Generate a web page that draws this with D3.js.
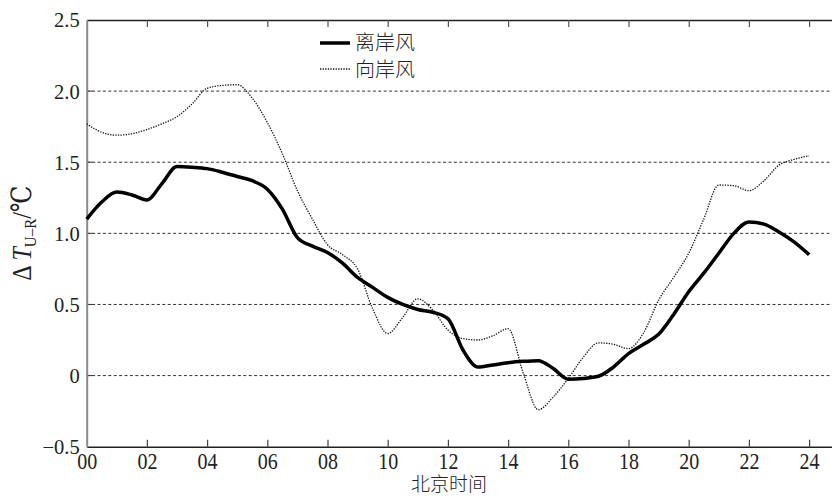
<!DOCTYPE html>
<html>
<head>
<meta charset="utf-8">
<script src="https://cdn.jsdelivr.net/npm/d3@7"></script>
<style>
  html, body { margin: 0; padding: 0; background: #fff; }
  svg { display: block; }
</style>
</head>
<body>
<svg id="chart" width="832" height="497"></svg>
<script>
// Hourly sampling (every half hour, Beijing time)
const hours = d3.range(0, 24.01, 0.5);

// Urban-rural temperature difference under offshore wind
const offshore = [
  1.10, 1.22, 1.29, 1.27, 1.235, 1.35, 1.47, 1.465, 1.455, 1.43,
  1.40, 1.37, 1.31, 1.17, 0.97, 0.91, 0.865, 0.79, 0.69, 0.62,
  0.55, 0.50, 0.465, 0.445, 0.40, 0.18, 0.06, 0.075, 0.09, 0.10,
  0.105, 0.05, -0.025, -0.02, -0.005, 0.06, 0.155, 0.22, 0.29, 0.43,
  0.59, 0.72, 0.86, 1.00, 1.08, 1.065, 1.01, 0.94, 0.85
];

// Urban-rural temperature difference under onshore wind
const onshore = [
  1.77, 1.71, 1.69, 1.70, 1.73, 1.77, 1.82, 1.91, 2.02, 2.04,
  2.045, 1.95, 1.78, 1.56, 1.30, 1.10, 0.92, 0.85, 0.75, 0.47,
  0.295, 0.41, 0.54, 0.46, 0.32, 0.26, 0.25, 0.28, 0.33, 0.02,
  -0.24, -0.15, -0.02, 0.13, 0.23, 0.22, 0.19, 0.30, 0.53, 0.69,
  0.86, 1.10, 1.34, 1.335, 1.30, 1.37, 1.48, 1.52, 1.545
];

const xTicks = d3.range(0, 25, 2);
const xTickLabels = xTicks.map(h => String(h).padStart(2, "0"));
const yTicks = [-0.5, 0, 0.5, 1.0, 1.5, 2.0, 2.5];
const yTickLabels = ["\u22120.5", "0", "0.5", "1.0", "1.5", "2.0", "2.5"];
const gridValues = [0, 0.5, 1.0, 1.5, 2.0];

const seriesNames = ["离岸风", "向岸风"];

const SERIF = "'Liberation Serif', 'DejaVu Serif', serif";
const CJK = "'Noto Sans CJK SC', sans-serif";
const INK = "#222";

const svg = d3.select("#chart");
const plotLeft = 86.7, plotTop = 20, plotBottom = 446.7;

const x = d3.scaleLinear().domain([0, 25]).range([plotLeft, plotLeft + 25 * 30.1]);
const y = d3.scaleLinear().domain([-0.5, 2.5]).range([plotBottom, plotTop]);

// dashed grid lines
svg.append("g").selectAll("line").data(gridValues).join("line")
  .attr("x1", plotLeft).attr("x2", 832)
  .attr("y1", d => y(d)).attr("y2", d => y(d))
  .attr("stroke", "#333").attr("stroke-width", 1)
  .attr("stroke-dasharray", "3,2.4");

// short solid y ticks at grid lines
svg.append("g").selectAll("line").data(gridValues).join("line")
  .attr("x1", plotLeft).attr("x2", plotLeft + 6)
  .attr("y1", d => y(d)).attr("y2", d => y(d))
  .attr("stroke", "#333").attr("stroke-width", 1);

// bottom axis (ticks pointing inward)
const xAxis = d3.axisBottom(x).tickValues(xTicks)
  .tickFormat((d, i) => xTickLabels[i]).tickSizeInner(-7).tickSizeOuter(0);
const gx = svg.append("g").attr("transform", `translate(0,${plotBottom})`).call(xAxis);
gx.select(".domain").attr("stroke", INK).attr("stroke-width", 1.4);
gx.selectAll(".tick line").attr("stroke", "#444").attr("stroke-width", 1.2);
gx.selectAll(".tick text")
  .attr("y", 0).attr("dy", null)
  .attr("transform", "translate(0,22.5) scale(1,1.15)")
  .style("font-family", SERIF).style("font-size", "20px").style("fill", INK);
gx.selectAll(".tick").filter(d => d === 0).select("line").remove();

// top frame with inward ticks
const xTop = d3.axisTop(x).tickValues(xTicks).tickFormat("").tickSizeInner(-7).tickSizeOuter(0);
const gt = svg.append("g").attr("transform", `translate(0,${plotTop})`).call(xTop);
gt.select(".domain").attr("stroke", INK).attr("stroke-width", 1.4);
gt.selectAll(".tick line").attr("stroke", "#555").attr("stroke-width", 1.2);
gt.selectAll(".tick").filter(d => d === 0).select("line").remove();

// left axis
const yAxis = d3.axisLeft(y).tickValues(yTicks)
  .tickFormat((d, i) => yTickLabels[i]).tickSize(0).tickPadding(7);
const gy = svg.append("g").attr("transform", `translate(${plotLeft},0)`).call(yAxis);
gy.select(".domain").attr("stroke", "#8a8a8a").attr("stroke-width", 2);
gy.selectAll(".tick text")
  .attr("dy", "0.34em")
  .style("font-family", SERIF).style("font-size", "20.5px").style("fill", INK);

// data lines
const line = d3.line().x((d, i) => x(hours[i])).y(d => y(d)).curve(d3.curveMonotoneX);

svg.append("path").datum(onshore)
  .attr("d", line).attr("fill", "none")
  .attr("stroke", "#111").attr("stroke-width", 1.3)
  .attr("stroke-dasharray", "1.3,1.3");

svg.append("path").datum(offshore)
  .attr("d", line).attr("fill", "none")
  .attr("stroke", "#000").attr("stroke-width", 3.5)
  .attr("stroke-linejoin", "round");

// legend
const legend = svg.append("g");
legend.append("line").attr("x1", 320).attr("x2", 350).attr("y1", 43).attr("y2", 43)
  .attr("stroke", "#000").attr("stroke-width", 3.5);
legend.append("line").attr("x1", 320).attr("x2", 350).attr("y1", 69).attr("y2", 69)
  .attr("stroke", "#111").attr("stroke-width", 1.3).attr("stroke-dasharray", "1.3,1.3");
legend.selectAll("text").data(seriesNames).join("text")
  .attr("x", 355).attr("y", (d, i) => 50 + i * 26.5)
  .style("font-family", CJK).style("font-size", "20px").style("font-weight", 300)
  .style("fill", INK)
  .text(d => d);

// axis titles
svg.append("text").attr("x", 449).attr("y", 491)
  .attr("text-anchor", "middle")
  .style("font-family", CJK).style("font-size", "19px").style("font-weight", 300)
  .style("fill", INK)
  .text("北京时间");

const yl = svg.append("text").attr("transform", "translate(31,233) rotate(-90) scale(1,1.15)")
  .attr("text-anchor", "middle")
  .style("font-family", SERIF).style("font-size", "24px").style("fill", INK);
yl.append("tspan").text("\u0394 ");
yl.append("tspan").style("font-style", "italic").text("T");
yl.append("tspan").style("font-size", "15px").attr("dy", 4).text("U\u2013R");
yl.append("tspan").attr("dy", -4).text("/\u2103");
</script>
</body>
</html>
